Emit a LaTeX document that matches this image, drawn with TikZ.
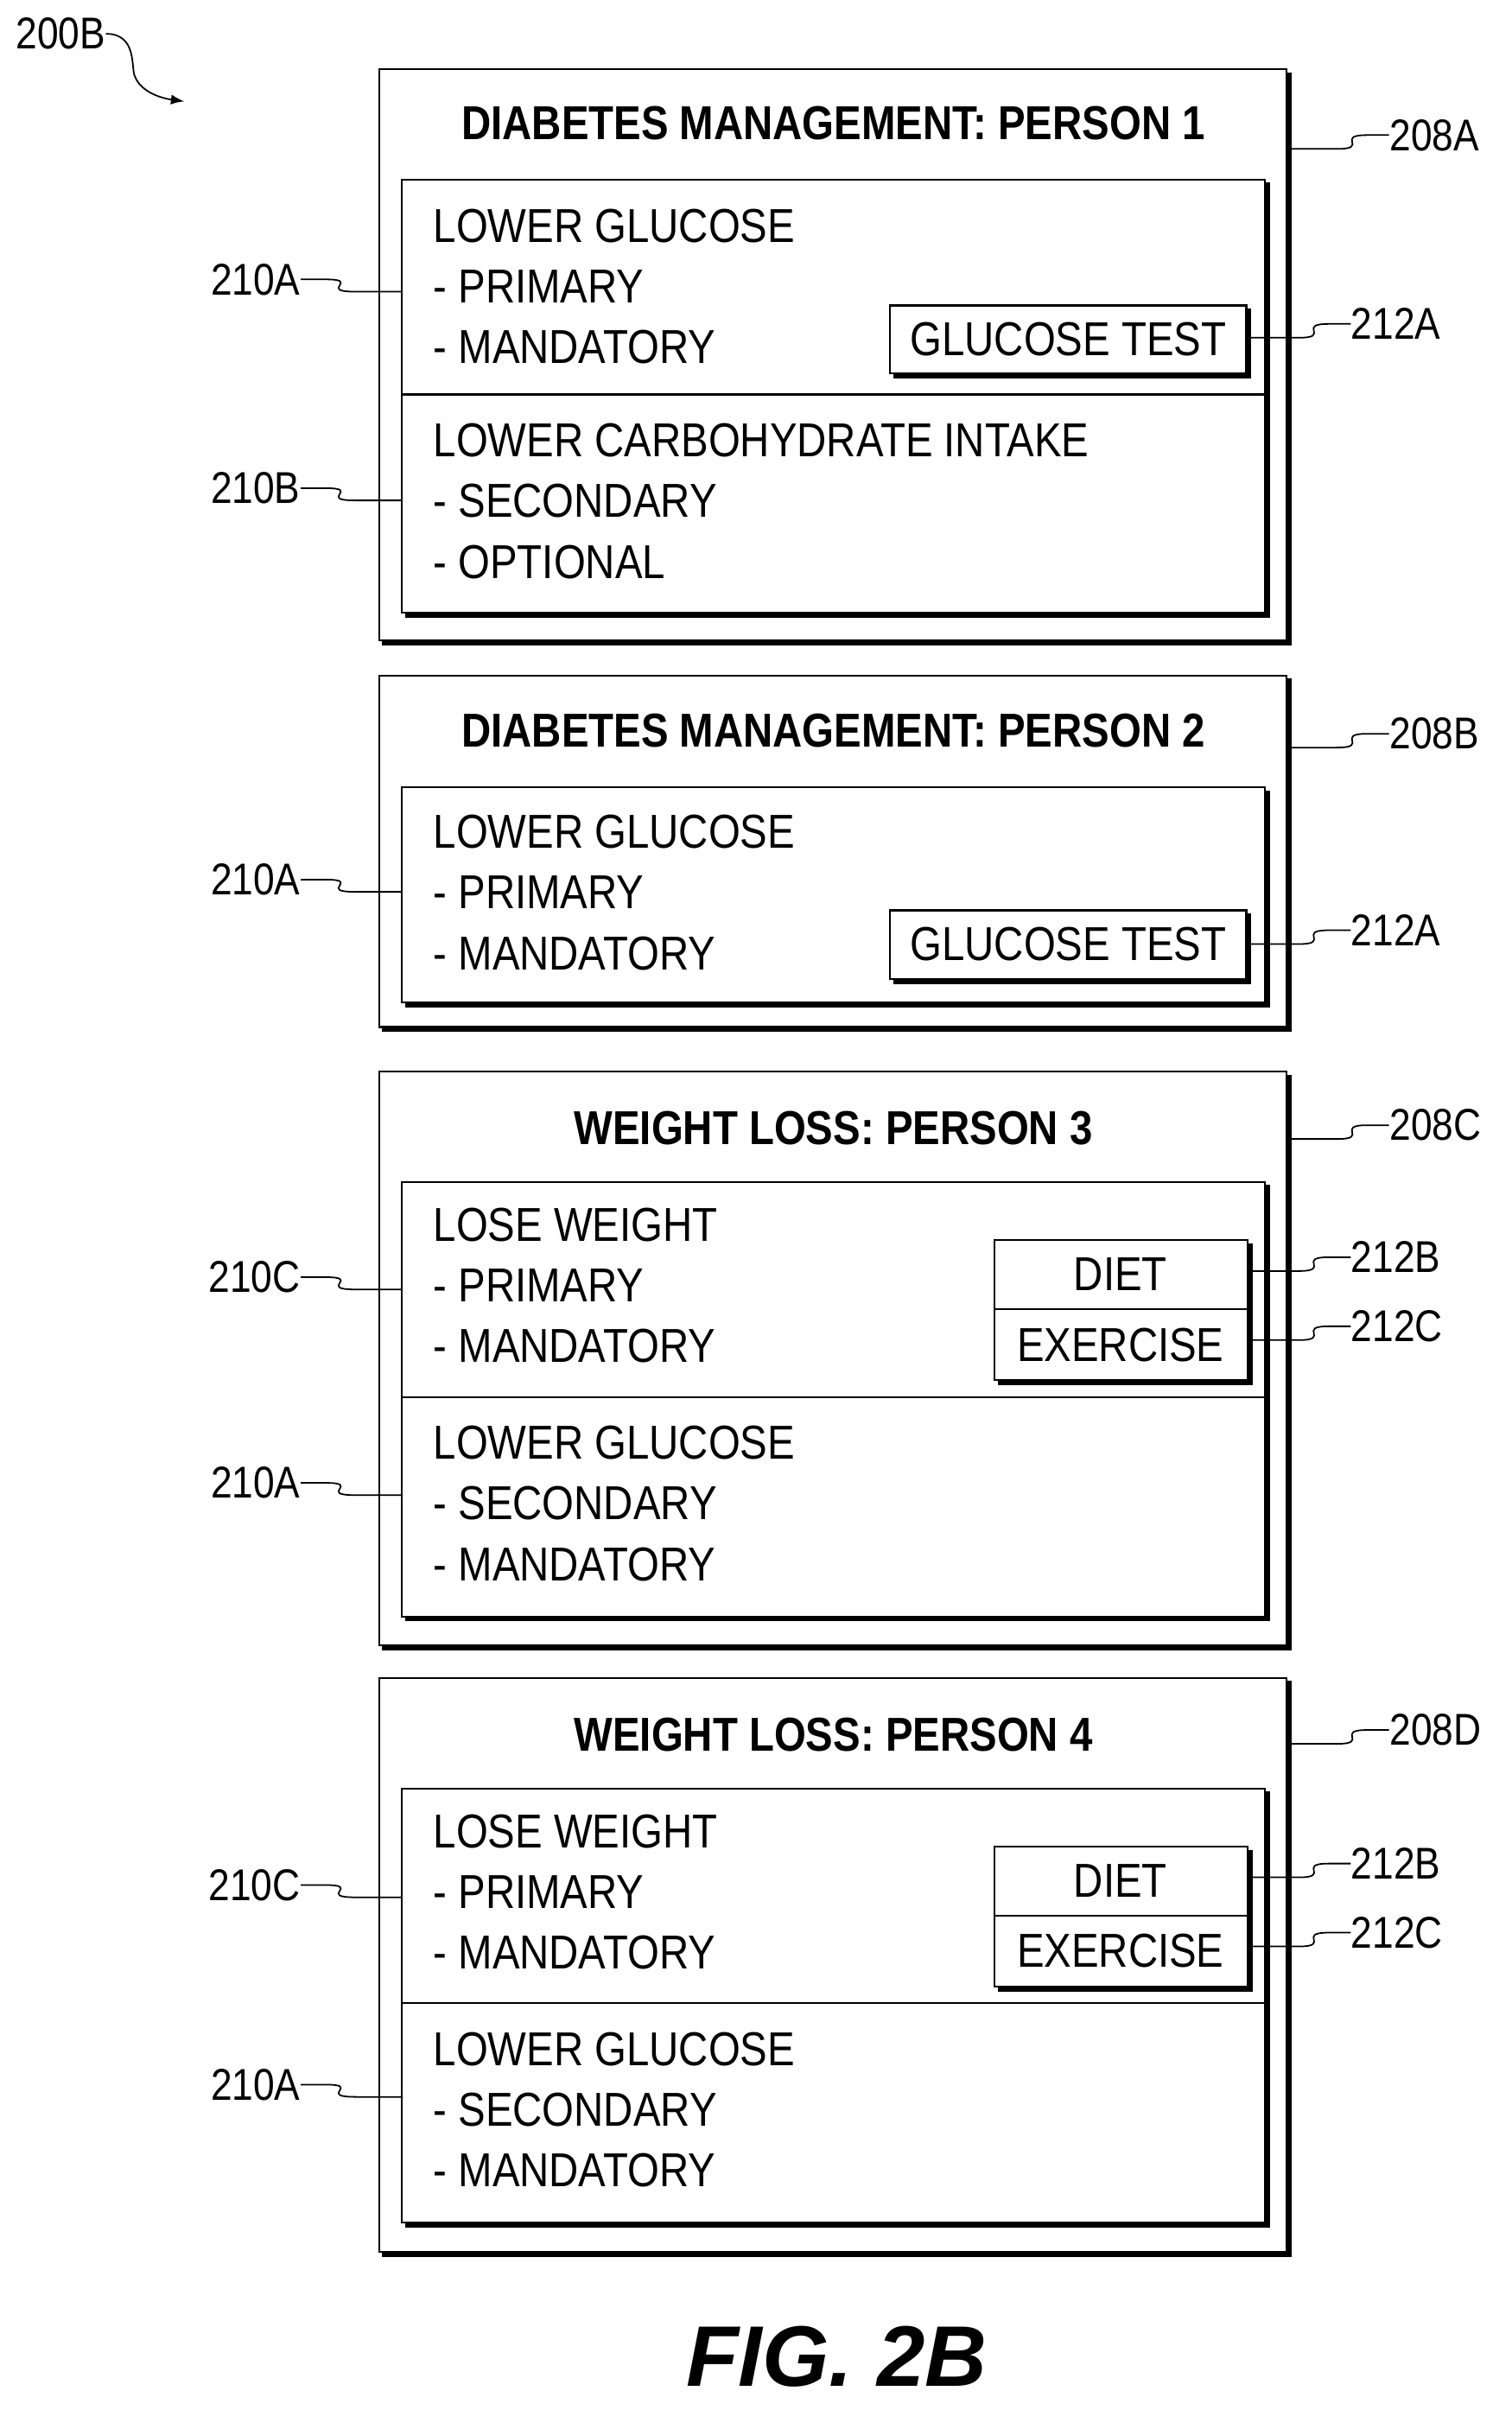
\documentclass[tikz,border=0pt]{standalone}
\usepackage{fontspec}
\setmainfont{Liberation Sans}[FakeStretch=0.86]
\newfontfamily\figfont{Liberation Sans}
\tikzset{
  txt/.style={anchor=west,inner sep=0pt,font=\fontsize{15.5}{18}\selectfont},
  ttl/.style={inner sep=0pt,font=\fontsize{15.5}{18}\selectfont\bfseries},
  lbl/.style={anchor=west,inner sep=0pt,font=\fontsize{14.5}{17}\selectfont},
  lead/.style={line width=0.5pt},
}
% shadowed box: x1,y1,x2,y2
\newcommand\shadebox[4]{%
  \draw[line width=0.6pt] (#1,#2) rectangle (#3,#4);
  \draw[line width=1.8pt] (#3+1.5,#2+2) -- (#3+1.5,#4+1.5) -- (#1+2,#4+1.5);
}
% left leader: name, label y, target x, text
\newcommand\llead[4]{%
  \node[lbl,anchor=east] (#1) at (196,#2) {#4};
  \coordinate (#1t) at (#3,#2+8);
  \draw[lead] (#1.east) -- (212,#2) .. controls (236,#2) and (206,#2+8) .. (232,#2+8) -- (#1t);
}
% right leader: name, start x, start y, label x, text
\newcommand\rlead[5]{%
  \coordinate (#1s) at (#2,#3);
  \node[lbl] (#1) at (#4,#3-9) {#5};
  \draw[lead] (#1s) -- (#4-34,#3) .. controls (#4-12,#3) and (#4-36,#3-9) .. (#4-14,#3-9) -- (#1.west);
}
% three text lines: top y, lines
\newcommand\goal[4]{%
  \node[txt] at (282,#1) {#2};
  \node[txt] at (282,#1+39.5) {#3};
  \node[txt] at (282,#1+79) {#4};
}
\begin{document}
\begin{tikzpicture}[x=0.5pt,y=-0.5pt]
  \useasboundingbox (0,0) rectangle (985,1570);

  % figure reference
  \node[lbl] (ref) at (10,22) {200B};
  \coordinate (refend) at (120,66);
  \draw[lead,-latex] (ref.east) .. controls (90,22) and (85,45) .. (88,50) .. controls (92,60) and (105,64) .. (refend);

  % 208A
  \shadebox{247}{45}{838}{417}
  \node[ttl] (t1) at (543,80) {DIABETES MANAGEMENT: PERSON 1};
  \shadebox{262}{117}{824}{399}
  \draw[line width=0.6pt] (262,257) -- (824,257);
  \goal{147}{LOWER GLUCOSE}{- PRIMARY}{- MANDATORY}
  \goal{287}{LOWER CARBOHYDRATE INTAKE}{- SECONDARY}{- OPTIONAL}
  \shadebox{580}{199}{812}{243}
  \node[txt,anchor=center] (g1) at (696,221) {GLUCOSE TEST};
  \llead{a1}{182}{262}{210A}
  \llead{b1}{318}{262}{210B}
  \rlead{r1}{840}{97}{905}{208A}
  \rlead{s1}{814}{220}{880}{212A}

  % 208B
  \shadebox{247}{440}{838}{669}
  \node[ttl] (t2) at (543,476) {DIABETES MANAGEMENT: PERSON 2};
  \shadebox{262}{513}{824}{653}
  \goal{542}{LOWER GLUCOSE}{- PRIMARY}{- MANDATORY}
  \shadebox{580}{593}{812}{638}
  \node[txt,anchor=center] (g2) at (696,615) {GLUCOSE TEST};
  \llead{a2}{573}{262}{210A}
  \rlead{r2}{840}{487}{905}{208B}
  \rlead{s2}{814}{615}{880}{212A}

  % 208C
  \shadebox{247}{698}{838}{1072}
  \node[ttl] (t3) at (543,735) {WEIGHT LOSS: PERSON 3};
  \shadebox{262}{770}{824}{1053}
  \draw[line width=0.6pt] (262,910) -- (824,910);
  \goal{798}{LOSE WEIGHT}{- PRIMARY}{- MANDATORY}
  \goal{940}{LOWER GLUCOSE}{- SECONDARY}{- MANDATORY}
  \shadebox{648}{808}{813}{899}
  \draw[line width=0.6pt] (648,853) -- (813,853);
  \node[txt,anchor=center] (d3) at (730,830) {DIET};
  \node[txt,anchor=center] (e3) at (730,876) {EXERCISE};
  \llead{a3}{832}{262}{210C}
  \llead{b3}{966}{262}{210A}
  \rlead{r3}{840}{742}{905}{208C}
  \rlead{s3}{815}{828}{880}{212B}
  \rlead{u3}{815}{873}{880}{212C}

  % 208D
  \shadebox{247}{1093}{838}{1467}
  \node[ttl] (t4) at (543,1130) {WEIGHT LOSS: PERSON 4};
  \shadebox{262}{1165}{824}{1448}
  \draw[line width=0.6pt] (262,1305) -- (824,1305);
  \goal{1193}{LOSE WEIGHT}{- PRIMARY}{- MANDATORY}
  \goal{1335}{LOWER GLUCOSE}{- SECONDARY}{- MANDATORY}
  \shadebox{648}{1203}{813}{1294}
  \draw[line width=0.6pt] (648,1248) -- (813,1248);
  \node[txt,anchor=center] (d4) at (730,1225) {DIET};
  \node[txt,anchor=center] (e4) at (730,1271) {EXERCISE};
  \llead{a4}{1228}{262}{210C}
  \llead{b4}{1358}{262}{210A}
  \rlead{r4}{840}{1136}{905}{208D}
  \rlead{s4}{815}{1223}{880}{212B}
  \rlead{u4}{815}{1268}{880}{212C}

  \node[inner sep=0pt,font=\figfont\fontsize{28}{32}\selectfont\bfseries\itshape] (fig) at (545,1535) {FIG. 2B};
\end{tikzpicture}
\end{document}
